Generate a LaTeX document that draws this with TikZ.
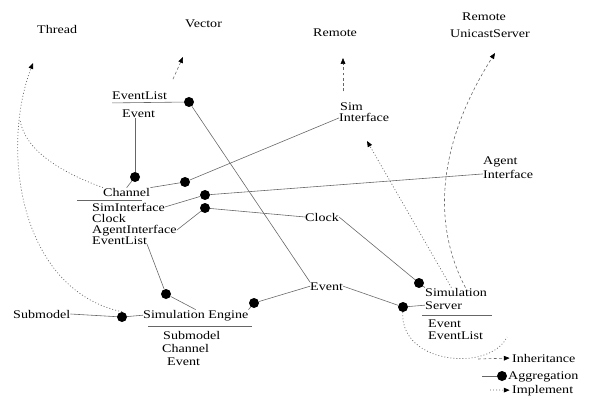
\documentclass[tikz,border=0pt]{standalone}
\usepackage{fontspec}
\setmainfont{Liberation Serif}[FakeStretch=1.2]
\usetikzlibrary{arrows.meta}
\begin{document}
\begin{tikzpicture}[x=0.03cm,y=-0.03cm,
  lbl/.style={anchor=base west,inner sep=0pt,font=\fontsize{10}{10}\selectfont},
  agg/.style={draw=black!60,line width=0.5pt},
  inh/.style={draw=black!60,line width=0.5pt,dash pattern=on 2.5pt off 2pt,-{Triangle[length=5pt,width=4pt,color=black]}},
  impl/.style={draw=black!60,line width=0.6pt,dash pattern=on 0.8pt off 1.8pt,-{Triangle[length=5pt,width=4pt,color=black]}},
  implline/.style={draw=black!60,line width=0.6pt,dash pattern=on 0.8pt off 1.8pt},
  dot/.style={circle,fill=black,inner sep=0pt,minimum size=0.3cm}]
\useasboundingbox (0,0) rectangle (597,401);

% free ends
\coordinate (thrTip) at (33,63);
\coordinate (vecTip) at (183,57);
\coordinate (remTip) at (343,58);
\coordinate (rusTip) at (495,53);
\coordinate (simTip) at (367,141);

% texts
\node[lbl] (thread) at (37,34) {Thread};
\node[lbl] (vector) at (185,28) {Vector};
\node[lbl] (remote) at (313,37) {Remote};
\node[lbl] (rus1) at (462,21) {Remote};
\node[lbl] (rus2) at (450,38) {UnicastServer};
\node[lbl] (elT) at (112,100) {EventList};
\node[lbl] (elA) at (122,118) {Event};
\node[lbl] (sim1) at (340,111) {Sim};
\node[lbl] (sim2) at (339,122) {Interface};
\node[lbl] (ag1) at (483,165) {Agent};
\node[lbl] (ag2) at (483,178) {Interface};
\node[lbl] (chT) at (103,196) {Channel};
\node[lbl] (ch1) at (92,211) {SimInterface};
\node[lbl] (ch2) at (92,222) {Clock};
\node[lbl] (ch3) at (92,233) {AgentInterface};
\node[lbl] (ch4) at (92,244) {EventList};
\node[lbl] (clock) at (305,221) {Clock};
\node[lbl] (event) at (310,290) {Event};
\node[lbl] (ssT1) at (425,296) {Simulation};
\node[lbl] (ssT2) at (425,309) {Server};
\node[lbl] (ss1) at (428,327) {Event};
\node[lbl] (ss2) at (428,339) {EventList};
\node[lbl] (seT) at (143,318) {Simulation Engine};
\node[lbl] (se1) at (163,339) {Submodel};
\node[lbl] (se2) at (162,352) {Channel};
\node[lbl] (se3) at (167,365) {Event};
\node[lbl] (sub) at (13,318) {Submodel};

% class separators
\draw[agg] (77,200) -- (142,200);
\draw[agg] (148,326) -- (252,326);
\draw[agg] (422,315) -- (492,315);

% dots
\node[dot] (d1) at (189,102) {};
\node[dot] (d2) at (135,177) {};
\node[dot] (d3) at (185,182) {};
\node[dot] (d4) at (205,195) {};
\node[dot] (d5) at (205,208) {};
\node[dot] (d6) at (166,294) {};
\node[dot] (d7) at (122,317) {};
\node[dot] (d8) at (254,303) {};
\node[dot] (d9) at (419,283) {};
\node[dot] (d10) at (403,307) {};

% aggregation
\draw[agg] ([yshift=-2.5pt]elT.base west) -- (d1);
\draw[agg] (d1) -- (event.north west);
\draw[agg] (d2) -- (d2 |- elA.south);
\draw[agg] (d2) -- (chT.north);
\draw[agg] (d3) -- (sim2.west);
\draw[agg] (d3) -- (chT.north east);
\draw[agg] (d4) -- (ag2.west);
\draw[agg] (d4) -- (ch1.east);
\draw[agg] (d5) -- (clock.west);
\draw[agg] (d5) -- (ch3.east);
\draw[agg] (clock.east) -- (d9);
\draw[agg] (event.east) -- (d10);
\draw[agg] (d8) -- (event.west);
\draw[agg] (d8) -- (seT.north east);
\draw[agg] (ch4.south east) -- (d6);
\draw[agg] (d6) -- (seT.north);
\draw[agg] (sub.east) -- (d7);
\draw[agg] (d7) -- (seT.west);
\draw[agg] (d10) -- (ssT2.west);
\draw[agg] (d9) -- (ssT1.north west);

% inheritance
\draw[inh,shorten <=12pt] (elT.north east) -- (vecTip);
\draw[inh,shorten <=10pt] (sim1.north -| remTip) -- (remTip);
\draw[inh] ([xshift=8pt]ssT1.north) .. controls (430,220) and (440,140) .. (rusTip);

% implement
\draw[impl] ([xshift=-4pt]ssT1.north) -- (simTip);
\draw[impl] (d7.north) .. controls (20,290) and (0,150) .. (thrTip);
\draw[implline] (chT.north west) .. controls (60,172) and (25,150) .. (20,120);
\draw[implline] (d10) .. controls (400,365) and (490,372) .. (507,337);

% legend
\coordinate (lgI1) at (478,359);
\node[lbl] (lgI) at (512,362) {Inheritance};
\draw[inh,shorten >=2pt] (lgI1) -- (lgI.west);
\node[dot] (lgD) at (502,376) {};
\coordinate (lgA1) at (482,376);
\node[lbl] (lgA) at (508,379) {Aggregation};
\draw[agg] (lgA1) -- (lgD);
\coordinate (lgM1) at (490,390);
\node[lbl] (lgM) at (512,393) {Implement};
\draw[impl,shorten >=2pt] (lgM1) -- (lgM.west);
\end{tikzpicture}
\end{document}
